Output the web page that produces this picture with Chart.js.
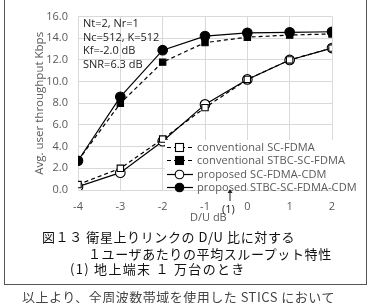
<!DOCTYPE html>
<html><head><meta charset="utf-8">
<script src="https://cdn.jsdelivr.net/npm/chart.js@4.4.1/dist/chart.umd.min.js"></script>
<style>
html,body{margin:0;padding:0;background:#fff;width:371px;height:303px;overflow:hidden;position:relative;font-family:"Noto Sans CJK JP","Noto Sans",sans-serif;}
#wrap{position:absolute;left:0;top:0;width:371px;height:303px;}
#frame{position:absolute;left:4px;top:-3px;width:363px;height:288px;border:1.5px solid #555;box-sizing:border-box;}
.t{position:absolute;white-space:nowrap;}
#note{left:83px;top:16px;font-family:"Open Sans","Noto Sans",sans-serif;font-size:11px;line-height:13.5px;color:#222;}
#legend{position:absolute;left:165px;top:140px;width:170px;height:48px;background:#fff;}
.row{position:absolute;left:0;height:13px;font-family:"Open Sans","Noto Sans",sans-serif;font-size:11px;color:#595959;line-height:13px;}
.row svg{position:absolute;left:0;top:0;}
.row span{position:absolute;left:32px;top:-1px;white-space:nowrap;letter-spacing:0.1px;}
.cap{font-size:13px;color:#111;letter-spacing:0.6px;}
</style></head><body>
<div id="wrap"><canvas id="c" width="371" height="303"></canvas></div>
<div id="frame"></div>
<div class="t" id="note">Nt=2, Nr=1<br>Nc=512, K=512<br>Kf=-2.0 dB<br>SNR=6.3 dB</div>
<div id="legend"></div>
<div class="t" style="left:190px;top:209px;font-size:11px;color:#595959;font-family:'Open Sans',sans-serif;">D/U dB</div>
<div class="t" style="left:222px;top:201px;font-size:11px;color:#222;font-family:'Open Sans',sans-serif;">(1)</div>
<svg style="position:absolute;left:226px;top:188px" width="8" height="14"><line x1="4" y1="3" x2="4" y2="13" stroke="#222" stroke-width="1"/><path d="M1.5,5 L4,1 L6.5,5 Z" fill="#222"/></svg>
<div class="t cap" style="left:42px;top:227px;">図１３ 衛星上りリンクの D/U 比に対する</div>
<div class="t cap" style="left:88px;top:244px;">１ユーザあたりの平均スループット特性</div>
<div class="t cap" style="left:70px;top:259px;letter-spacing:1.3px;">(1) 地上端末 １ 万台のとき</div>
<div class="t" style="left:22px;top:287px;font-size:13px;color:#444;letter-spacing:0.5px;">以上より、全周波数帯域を使用した STICS において</div>
<script>
const xValues = [-4, -3, -2, -1, 0, 1, 2];
const convSCFDMA = [0.5, 2.0, 4.7, 7.6, 10.2, 12.0, 13.1];
const convSTBC = [2.7, 8.0, 11.8, 13.6, 14.1, 14.3, 14.4];
const propSCFDMACDM = [0.3, 1.6, 4.5, 7.9, 10.2, 12.0, 13.1];
const propSTBCCDM = [2.7, 8.6, 12.9, 14.2, 14.5, 14.55, 14.6];
const seriesNames = ["conventional SC-FDMA","conventional STBC-SC-FDMA","proposed SC-FDMA-CDM","proposed STBC-SC-FDMA-CDM"];
const yTicks = [0,2,4,6,8,10,12,14,16];

const styles = [
  {dash:[4,3], shape:'rect', fill:'#fff'},
  {dash:[4,3], shape:'rect', fill:'#000'},
  {dash:[], shape:'circle', fill:'#fff'},
  {dash:[], shape:'circle', fill:'#000'}
];
const data = [convSCFDMA, convSTBC, propSCFDMACDM, propSTBCCDM];
const datasets = data.map((arr,i)=>({
  label: seriesNames[i],
  data: arr.map((v,j)=>({x:xValues[j], y:v})),
  borderColor:'#000', borderWidth:1.2, borderDash:styles[i].dash,
  pointStyle:styles[i].shape, pointRadius:styles[i].shape==='rect'?4.5:4.8,
  pointBackgroundColor:styles[i].fill, pointBorderColor:'#000', pointBorderWidth:1.1,
  tension:0, fill:false
}));
new Chart(document.getElementById('c'), {
  type:'line',
  data:{datasets},
  options:{
    responsive:false, animation:false, devicePixelRatio:1,
    layout:{padding:{left:33,right:39,top:13,bottom:0}},
    plugins:{legend:{display:false}, tooltip:{enabled:false}},
    scales:{
      x:{type:'linear', min:-4, max:2,
        ticks:{stepSize:1, padding:10, color:'#595959', font:{family:'Open Sans', size:11}},
        grid:{color:'#d9d9d9', drawTicks:false, lineWidth:1},
        border:{display:false},
        afterFit:(s)=>{s.height=113;}
      },
      y:{min:0, max:16,
        ticks:{stepSize:2, padding:10, color:'#595959', font:{family:'Open Sans', size:11}, callback:(v)=>v.toFixed(1)},
        grid:{color:'#d9d9d9', drawTicks:false, lineWidth:1},
        border:{display:false},
        title:{display:true, text:'Avg. user throughput Kbps', color:'#595959', font:{family:'Open Sans', size:11.5}, padding:{top:0,bottom:0}},
        afterFit:(s)=>{s.width=45;}
      }
    }
  }
});
const lg = document.getElementById('legend');
seriesNames.forEach((n,i)=>{
  const r = document.createElement('div');
  r.className='row'; r.style.top=(1+i*13.3)+'px'; r.style.width='170px';
  const st = styles[i];
  const marker = st.shape==='rect'
    ? `<rect x="10.5" y="2.5" width="8" height="8" fill="${st.fill}" stroke="#000" stroke-width="1.1"/>`
    : `<circle cx="14.5" cy="6.5" r="4.3" fill="${st.fill}" stroke="#000" stroke-width="1.1"/>`;
  r.innerHTML = `<svg width="30" height="13"><line x1="2" y1="6.5" x2="28" y2="6.5" stroke="#000" stroke-width="1.2" ${st.dash.length?'stroke-dasharray="4,3"':''}/>${marker}</svg><span>${n}</span>`;
  lg.appendChild(r);
});
</script>
</body></html>
